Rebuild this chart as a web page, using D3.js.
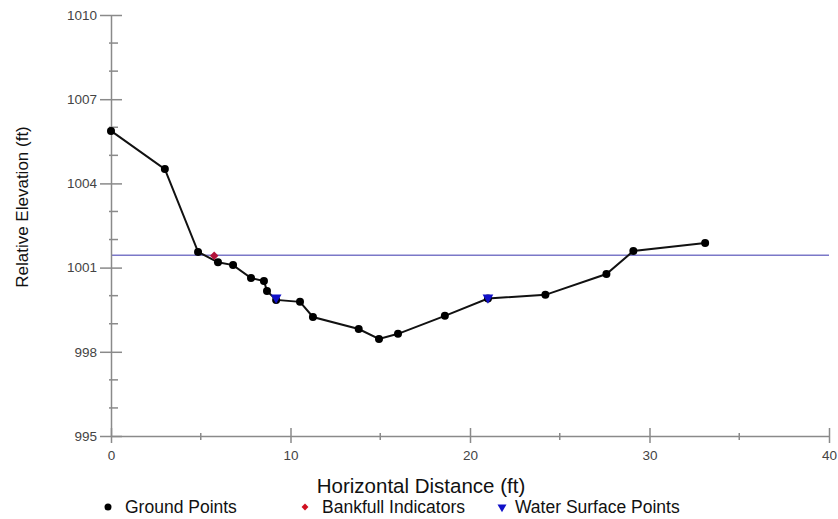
<!DOCTYPE html>
<html><head><meta charset="utf-8">
<script src="https://cdn.jsdelivr.net/npm/d3@7"></script>
<style>body{margin:0;background:#fff;}svg{display:block;font-family:"Liberation Sans",Arial,sans-serif;}</style>
</head><body>
<svg id="c" width="838" height="519"></svg>
<script>
const groundX = [0, 3.0, 4.85, 5.96, 6.8, 7.8, 8.52, 8.69, 9.2, 10.53, 11.25, 13.8, 14.93, 15.99, 18.6, 21.0, 24.2, 27.6, 29.1, 33.1];
const groundY = [1005.87, 1004.51, 1001.56, 1001.19, 1001.09, 1000.63, 1000.52, 1000.17, 999.85, 999.78, 999.24, 998.81, 998.46, 998.64, 999.28, 999.9, 1000.03, 1000.77, 1001.59, 1001.88];
const bankfullX = [5.75];
const bankfullY = [1001.42];
const waterX = [9.2, 21.0];
const waterY = [999.93, 999.93];
const waterLevel = [1001.44];
const xTicks = [0, 10, 20, 30, 40];
const xMinor = [5, 15, 25, 35];
const yTicks = [995, 998, 1001, 1004, 1007, 1010];
const yMinor = [996, 997, 999, 1000, 1002, 1003, 1005, 1006, 1008, 1009];
const legendLabels = ["Ground Points", "Bankfull Indicators", "Water Surface Points"];

const svg = d3.select("#c");
const x = d3.scaleLinear().domain([0, 40]).range([111, 829]);
const y = d3.scaleLinear().domain([995, 1010]).range([436, 15]);
const axisCol = "#8a8a8a";

// water line
svg.append("line").attr("x1", x(0)).attr("x2", x(40))
  .attr("y1", y(waterLevel[0])).attr("y2", y(waterLevel[0]))
  .attr("stroke", "#7b78c8").attr("stroke-width", 1.6);

// axes
const gx = svg.append("g").attr("transform", `translate(0,${y(995)})`);
gx.call(d3.axisBottom(x).tickValues(xTicks).tickFormat(d3.format("d")).tickSize(7).tickSizeOuter(0).tickPadding(7));
gx.selectAll(".tick line").attr("y1", -8).attr("y2", 7);
gx.selectAll(".minor").data(xMinor).enter().append("line")
  .attr("x1", d => x(d)).attr("x2", d => x(d)).attr("y1", -3).attr("y2", 4);
const gy = svg.append("g").attr("transform", `translate(${x(0)},0)`);
gy.call(d3.axisLeft(y).tickValues(yTicks).tickFormat(d3.format("d")).tickSize(11).tickSizeOuter(0).tickPadding(3));
gy.selectAll(".tick line").attr("x2", 11).attr("x1", -11);
gy.selectAll(".minor").data(yMinor).enter().append("line")
  .attr("y1", d => y(d)).attr("y2", d => y(d)).attr("x1", -2).attr("x2", 7);
[gx, gy].forEach(g => {
  g.select(".domain").attr("stroke", axisCol).attr("stroke-width", 1.5);
  g.selectAll("line").attr("stroke", axisCol).attr("stroke-width", 1.5);
  g.selectAll("text").attr("font-size", 13.5).attr("fill", "#444").attr("font-family", "Liberation Sans, Arial, sans-serif");
});
gx.selectAll(".tick text").attr("dy", "0.71em");

// ground line
const pts = groundX.map((d, i) => [d, groundY[i]]);
svg.append("path").datum(pts)
  .attr("d", d3.line().x(d => x(d[0])).y(d => y(d[1])))
  .attr("fill", "none").attr("stroke", "#111").attr("stroke-width", 2);
svg.selectAll(".gp").data(pts).enter().append("circle")
  .attr("cx", d => x(d[0])).attr("cy", d => y(d[1])).attr("r", 4).attr("fill", "#000");

// bankfull
const diamond = d3.symbol().type(d3.symbolSquare).size(36);
svg.selectAll(".bf").data(bankfullX.map((d, i) => [d, bankfullY[i]])).enter().append("path")
  .attr("d", diamond).attr("transform", d => `translate(${x(d[0])},${y(d[1])}) rotate(45)`).attr("fill", "#b3123a");

// water surface points
const tri = d3.symbol().type(d3.symbolTriangle).size(50);
svg.selectAll(".ws").data(waterX.map((d, i) => [d, waterY[i]])).enter().append("path")
  .attr("d", tri).attr("transform", d => `translate(${x(d[0])},${y(d[1])}) rotate(180)`).attr("fill", "#1010c8");

// titles
svg.append("text").attr("x", 421).attr("y", 493).attr("text-anchor", "middle")
  .attr("font-size", 20.5).attr("fill", "#111").text("Horizontal Distance (ft)");
svg.append("text").attr("transform", "translate(28,207) rotate(-90)").attr("text-anchor", "middle")
  .attr("font-size", 17).attr("fill", "#111").text("Relative Elevation (ft)");

// legend
const lx = [108, 305, 502];
const lg = svg.append("g");
lg.append("circle").attr("cx", lx[0]).attr("cy", 507).attr("r", 3.5).attr("fill", "#000");
lg.append("path").attr("d", d3.symbol().type(d3.symbolSquare).size(24)).attr("transform", `translate(${lx[1]},507) rotate(45)`).attr("fill", "#d01020");
lg.append("path").attr("d", d3.symbol().type(d3.symbolTriangle).size(35)).attr("transform", `translate(${lx[2]},507) rotate(180)`).attr("fill", "#1010c8");
lg.selectAll("text").data(legendLabels).enter().append("text")
  .attr("x", (d, i) => lx[i] + (i === 2 ? 13 : 17)).attr("y", 513).attr("font-size", 17.5).attr("fill", "#111").text(d => d);
</script>
</body></html>
